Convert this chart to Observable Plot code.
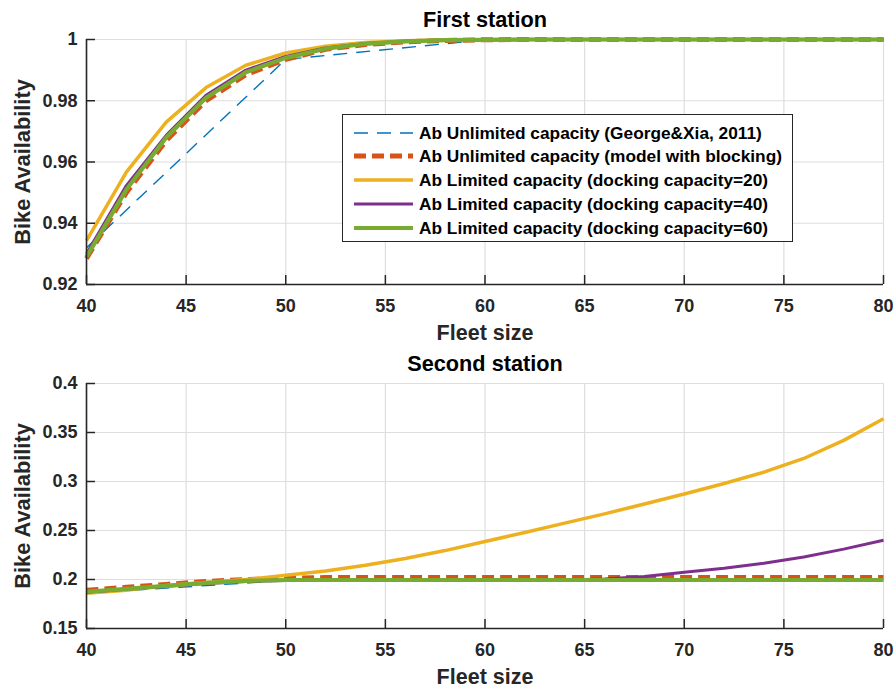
<!DOCTYPE html>
<html>
<head>
<meta charset="utf-8">
<script src="https://cdn.jsdelivr.net/npm/d3@7"></script>
<script src="https://cdn.jsdelivr.net/npm/@observablehq/plot@0.6"></script>
<style>
  html, body { margin: 0; padding: 0; background: #fff; }
  #wrap { position: relative; width: 895px; height: 688px; overflow: hidden;
          font-family: "Liberation Sans", Arial, Helvetica, sans-serif; }
  #wrap > svg { display: block; }
  .legend { position: absolute; left: 342px; top: 114px; width: 451px; height: 128px;
            box-sizing: border-box; border: 1px solid #262626; background: #fff; }
  .legend .row { position: absolute; left: 0; height: 24px; width: 100%; }
  .legend .row svg { position: absolute; left: 9px; top: 0; }
  .legend .row span { position: absolute; left: 76px; top: 0; line-height: 24px;
                      font-size: 17.3px; font-weight: bold; color: #000; white-space: nowrap; }
</style>
</head>
<body>
<div id="wrap"></div>
<script>
// ---------- data ----------
const fleet = [40, 42, 44, 46, 48, 50, 52, 54, 56, 58, 60, 62, 64, 66, 68, 70, 72, 74, 76, 78, 80];
const fleetGeorge = [40, 50, 60, 70, 80];

const seriesNames = [
  "Ab Unlimited capacity (George&Xia, 2011)",
  "Ab Unlimited capacity (model with blocking)",
  "Ab Limited capacity (docking capacity=20)",
  "Ab Limited capacity (docking capacity=40)",
  "Ab Limited capacity (docking capacity=60)"
];

// First station
const george1 = [0.932, 0.9935, 0.9999, 1.0, 1.0];
const block1  = [0.9285, 0.950, 0.967, 0.980, 0.9885, 0.9935, 0.9968, 0.9984, 0.9992, 0.9997, 0.9999, 1, 1, 1, 1, 1, 1, 1, 1, 1, 1];
const cap20_1 = [0.9343, 0.9567, 0.9730, 0.9843, 0.9916, 0.9956, 0.9978, 0.9990, 0.9996, 0.9998, 0.9999, 1, 1, 1, 1, 1, 1, 1, 1, 1, 1];
const cap40_1 = [0.930, 0.9523, 0.9687, 0.9818, 0.9900, 0.9945, 0.9972, 0.9987, 0.9994, 0.9998, 0.9999, 1, 1, 1, 1, 1, 1, 1, 1, 1, 1];
const cap60_1 = [0.929, 0.951, 0.968, 0.981, 0.9893, 0.9940, 0.9970, 0.9986, 0.9994, 0.9998, 0.9999, 1, 1, 1, 1, 1, 1, 1, 1, 1, 1];

// Second station
const george2 = [0.186, 0.199, 0.200, 0.200, 0.200];
const block2  = [0.189, 0.192, 0.195, 0.198, 0.200, 0.201, 0.202, 0.202, 0.202, 0.202, 0.202, 0.202, 0.202, 0.202, 0.202, 0.202, 0.202, 0.202, 0.202, 0.202, 0.202];
const cap20_2 = [0.186, 0.189, 0.194, 0.197, 0.200, 0.2043, 0.2087, 0.2145, 0.2215, 0.2295, 0.2387, 0.248, 0.2575, 0.267, 0.277, 0.2873, 0.298, 0.3095, 0.3235, 0.342, 0.364];
const cap40_2 = [0.187, 0.190, 0.193, 0.196, 0.198, 0.199, 0.199, 0.199, 0.199, 0.199, 0.199, 0.199, 0.1995, 0.2005, 0.203, 0.2075, 0.2115, 0.2165, 0.223, 0.231, 0.240];
const cap60_2 = [0.1875, 0.1905, 0.1935, 0.1965, 0.1985, 0.1995, 0.1995, 0.1995, 0.1995, 0.1995, 0.1995, 0.1995, 0.1995, 0.1995, 0.1995, 0.1995, 0.1995, 0.1995, 0.1995, 0.1995, 0.1995];

const xTicks = [40, 45, 50, 55, 60, 65, 70, 75, 80];
const yTicks1 = [0.92, 0.94, 0.96, 0.98, 1];
const yTicks2 = [0.15, 0.2, 0.25, 0.3, 0.35, 0.4];
const titles = ["First station", "Second station"];
const xLabel = "Fleet size";
const yLabel = "Bike Availability";

// ---------- styles ----------
const styles = [
  {color: "#0072BD", width: 1.4, dash: "14,9"},
  {color: "#D95319", width: 5, dash: "12,6"},
  {color: "#EDB120", width: 3.5, dash: null},
  {color: "#7E2F8E", width: 3, dash: null},
  {color: "#77AC30", width: 4.2, dash: null}
];

const W = 895, H = 344, mL = 86, mR = 12, mT = 39, mB = 60;
const frameW = W - mL - mR, frameH = H - mT - mB;
const axisColor = "#262626";

function panel(title, ysList, yTicks) {
  const xsList = [fleetGeorge, fleet, fleet, fleet, fleet];
  const lines = ysList.map((ys, i) => {
    const data = ys.map((v, j) => ({x: xsList[i][j], y: v}));
    const s = styles[i];
    const opts = {x: "x", y: "y", stroke: s.color, strokeWidth: s.width,
                  strokeLinejoin: "round", strokeLinecap: "butt", curve: "linear"};
    if (s.dash) opts.strokeDasharray = s.dash;
    return Plot.line(data, opts);
  });
  const yDomain = [yTicks[0], yTicks[yTicks.length - 1]];
  return Plot.plot({
    width: W, height: H,
    marginLeft: mL, marginRight: mR, marginTop: mT, marginBottom: mB,
    style: {fontFamily: '"Liberation Sans", Arial, Helvetica, sans-serif', background: "white", overflow: "visible"},
    x: {domain: [xTicks[0], xTicks[xTicks.length - 1]]},
    y: {domain: yDomain},
    marks: [
      Plot.gridX(xTicks, {stroke: "#dedede", strokeOpacity: 1, strokeWidth: 1.2}),
      Plot.gridY(yTicks, {stroke: "#dedede", strokeOpacity: 1, strokeWidth: 1.2}),
      Plot.axisX(xTicks, {tickSize: 0, tickPadding: 15, label: null, fontSize: 18, fontWeight: "bold", fill: axisColor, tickFormat: d => `${d}`}),
      Plot.axisY(yTicks, {tickSize: 0, tickPadding: 9, label: null, fontSize: 18, fontWeight: "bold", fill: axisColor, tickFormat: d => `${d}`}),
      ...lines,
      Plot.tickX(xTicks, {x: d => d, insetTop: frameH - 9, stroke: axisColor, strokeWidth: 1.5}),
      Plot.tickY(yTicks, {y: d => d, insetRight: frameW - 9, stroke: axisColor, strokeWidth: 1.5}),
      Plot.ruleX([xTicks[0]], {stroke: axisColor, strokeWidth: 1.6}),
      Plot.ruleY([yDomain[0]], {stroke: axisColor, strokeWidth: 1.6}),
      Plot.text([title], {text: d => d, frameAnchor: "top", dy: -19, lineAnchor: "middle", textAnchor: "middle",
                          fontSize: 21.7, fontWeight: "bold", fill: "#000"}),
      Plot.text([xLabel], {text: d => d, frameAnchor: "bottom", dy: 49, lineAnchor: "middle", textAnchor: "middle",
                           fontSize: 21.5, fontWeight: "bold", fill: axisColor}),
      Plot.text([yLabel], {text: d => d, frameAnchor: "left", dx: -63, rotate: -90, lineAnchor: "middle", textAnchor: "middle",
                           fontSize: 21.8, fontWeight: "bold", fill: axisColor})
    ]
  });
}

const wrap = document.getElementById("wrap");
wrap.appendChild(panel(titles[0], [george1, block1, cap20_1, cap40_1, cap60_1], yTicks1));
wrap.appendChild(panel(titles[1], [george2, block2, cap20_2, cap40_2, cap60_2], yTicks2));

// ---------- legend ----------
const legend = document.createElement("div");
legend.className = "legend";
const rowCenters = [17.5, 41, 65, 88.7, 112.5];
seriesNames.forEach((name, i) => {
  const row = document.createElement("div");
  row.className = "row";
  row.style.top = (rowCenters[i] - 12) + "px";
  const s = styles[i];
  const svgNS = "http://www.w3.org/2000/svg";
  const svg = document.createElementNS(svgNS, "svg");
  svg.setAttribute("width", 62); svg.setAttribute("height", 24);
  const ln = document.createElementNS(svgNS, "line");
  ln.setAttribute("x1", 2); ln.setAttribute("x2", 61);
  ln.setAttribute("y1", 12); ln.setAttribute("y2", 12);
  ln.setAttribute("stroke", s.color);
  ln.setAttribute("stroke-width", s.width);
  if (s.dash) ln.setAttribute("stroke-dasharray", s.dash);
  svg.appendChild(ln);
  const span = document.createElement("span");
  span.textContent = name;
  row.appendChild(svg); row.appendChild(span);
  legend.appendChild(row);
});
wrap.appendChild(legend);
</script>
</body>
</html>
